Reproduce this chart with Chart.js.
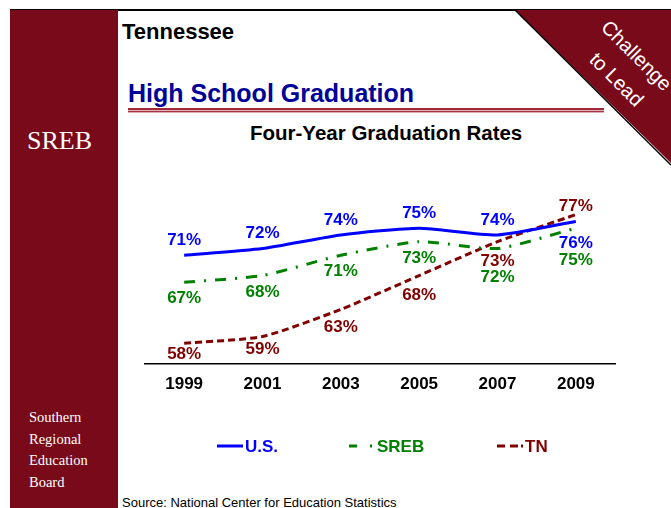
<!DOCTYPE html>
<html lang="en">
<head>
  <meta charset="UTF-8" />
  <title>Tennessee - High School Graduation</title>
  <script src="https://cdn.jsdelivr.net/npm/chart.js"></script>
  <style>
    html, body { margin: 0; padding: 0; background: #fff; }
    body { width: 671px; height: 508px; position: relative; overflow: hidden; font-family: "Liberation Sans", Arial, sans-serif; }
    .abs { position: absolute; white-space: nowrap; }
    .top-rule { left: 10px; top: 9px; width: 661px; height: 2px; background: #000; }
    .sidebar { left: 10px; top: 10px; width: 108px; height: 498px; background: #780a1a; }
    .logo { left: 27px; top: 128px; font-family: "Liberation Serif", "Times New Roman", serif; font-size: 26px; line-height: 26px; color: #fff; }
    .org { left: 29px; top: 407px; font-family: "Liberation Serif", "Times New Roman", serif; font-size: 14.5px; line-height: 21.7px; color: #fff; }
    .corner { left: 0; top: 0; }
    .state { left: 122px; top: 21px; font-size: 22px; line-height: 22px; font-weight: bold; color: #000; }
    .heading { left: 128px; top: 81px; font-size: 25px; line-height: 25px; font-weight: bold; color: #000099; }
    .rule { left: 128px; top: 108px; width: 476px; height: 5px;
      background: linear-gradient(#a02838 0, #a02838 2px, #e2b0b8 2px, #e2b0b8 3px, #a83444 3px, #a83444 4px, #dcaab2 4px, #dcaab2 5px); }
    .chart-title { left: 250px; top: 123px; font-size: 20.5px; line-height: 20px; font-weight: bold; color: #000; }
    .source { left: 122px; top: 496px; font-size: 13px; line-height: 13px; color: #000; }
    #chart { position: absolute; left: 0; top: 0; }
  </style>
</head>
<body>
  <div class="abs top-rule"></div>
  <div class="abs sidebar"></div>
  <div class="abs logo">SREB</div>
  <div class="abs org">Southern<br>Regional<br>Education<br>Board</div>

  <svg class="abs corner" width="671" height="508">
    <polygon points="515,10 671,10 671,163" fill="#780a1a" />
    <line x1="515" y1="10" x2="671" y2="165" stroke="#000" stroke-width="1.5" />
    <text x="636" y="62" fill="#fff" font-family="Liberation Sans, Arial, sans-serif" font-size="20"
          text-anchor="middle" transform="rotate(45 636 56)">Challenge</text>
    <text x="616" y="86" fill="#fff" font-family="Liberation Sans, Arial, sans-serif" font-size="20"
          text-anchor="middle" transform="rotate(45 616 80)">to Lead</text>
  </svg>

  <div class="abs state">Tennessee</div>
  <div class="abs heading">High School Graduation</div>
  <div class="abs rule"></div>
  <div class="abs chart-title">Four-Year Graduation Rates</div>
  <div class="abs source">Source: National Center for Education Statistics</div>

  <canvas id="chart" width="671" height="508"></canvas>

  <script>
    // data
    const years = ['1999', '2001', '2003', '2005', '2007', '2009'];
    const usRates = [71, 72, 74, 75, 74, 76];
    const srebRates = [67, 68, 71, 73, 72, 75];
    const tnRates = [58, 59, 63, 68, 73, 77];
    const seriesNames = ['U.S.', 'SREB', 'TN'];

    const FONT = '"Liberation Sans", Arial, sans-serif';
    const BLUE = '#0000ff';
    const GREEN = '#008000';
    const RED = '#800000';

    // value labels next to each point
    const pointLabels = {
      id: 'pointLabels',
      afterDatasetsDraw(chart, args, opts) {
        const ctx = chart.ctx;
        ctx.save();
        ctx.font = 'bold 17px ' + FONT;
        ctx.textAlign = 'center';
        ctx.textBaseline = 'middle';
        chart.data.datasets.forEach((ds, i) => {
          const meta = chart.getDatasetMeta(i);
          ctx.fillStyle = ds.borderColor;
          meta.data.forEach((pt, j) => {
            const dy = opts.offsets[i][j];
            ctx.fillText(ds.data[j] + '%', pt.x, pt.y + dy);
          });
        });
        ctx.restore();
      }
    };

    // legend laid out like the slide
    const slideLegend = {
      id: 'slideLegend',
      afterDraw(chart, args, opts) {
        const ctx = chart.ctx;
        ctx.save();
        ctx.font = 'bold 17px ' + FONT;
        ctx.textBaseline = 'middle';
        chart.data.datasets.forEach((ds, i) => {
          const x = opts.x[i];
          const y = opts.y;
          ctx.strokeStyle = ds.borderColor;
          ctx.lineWidth = 3;
          ctx.lineCap = 'butt';
          ctx.setLineDash(opts.dashes[i]);
          ctx.beginPath();
          ctx.moveTo(x, y);
          ctx.lineTo(x + 26, y);
          ctx.stroke();
          ctx.setLineDash([]);
          ctx.fillStyle = ds.borderColor;
          ctx.fillText(ds.label, x + 28, y + 1);
        });
        ctx.restore();
      }
    };

    new Chart(document.getElementById('chart').getContext('2d'), {
      type: 'line',
      data: {
        labels: years,
        datasets: [
          { label: seriesNames[0], data: usRates, borderColor: BLUE, borderWidth: 3, tension: 0.2, pointRadius: 0, fill: false },
          { label: seriesNames[1], data: srebRates, borderColor: GREEN, borderWidth: 3, borderDash: [11, 9, 2, 9], tension: 0.2, pointRadius: 0, fill: false },
          { label: seriesNames[2], data: tnRates, borderColor: RED, borderWidth: 3, borderDash: [7, 4], tension: 0.2, pointRadius: 0, fill: false }
        ]
      },
      options: {
        responsive: false,
        animation: false,
        layout: { padding: { top: 174, left: 145, right: 56, bottom: 102 } },
        scales: {
          x: {
            offset: true,
            grid: { display: false, drawTicks: false },
            border: { display: true, color: '#000', width: 1.5 },
            ticks: { color: '#000', padding: 11, font: { family: FONT, size: 17, weight: 'bold' } }
          },
          y: { display: false, min: 55, max: 83 }
        },
        plugins: {
          legend: { display: false },
          tooltip: { enabled: false },
          pointLabels: {
            offsets: [
              [-15, -15, -15, -15, -15, 22],
              [16, 17, 16, 17, 29, 32],
              [11, 13, 18, 20, 20, -8]
            ]
          },
          slideLegend: {
            x: [217, 349, 497],
            y: 446,
            dashes: [[], [8, 13, 2, 20], [8, 5, 8, 3, 2, 20]]
          }
        }
      },
      plugins: [pointLabels, slideLegend]
    });
  </script>
</body>
</html>
